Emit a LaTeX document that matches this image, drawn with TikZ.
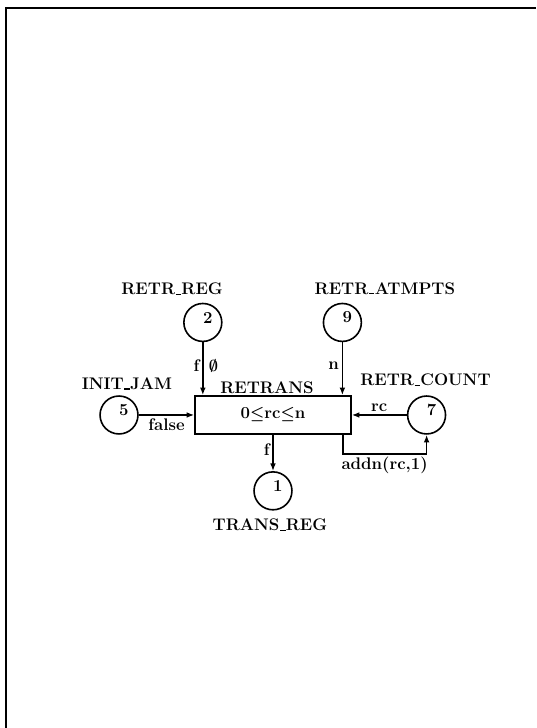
\documentclass[tikz,border=0pt]{standalone}
\usetikzlibrary{positioning,arrows.meta}

% short underscore as in the old OT1 fonts
\newcommand{\usc}{\kern.04em\rule{.32em}{.07em}\kern.02em}

\begin{document}
\begin{tikzpicture}[
    font=\fontsize{12.6}{15}\selectfont\bfseries\boldmath,
    place/.style={circle, draw, line width=1.2pt, minimum size=1cm, inner sep=0pt},
    trans/.style={rectangle, draw, line width=1.2pt, minimum width=4.11cm,
      minimum height=1cm, inner sep=1mm},
    num/.style={xshift=1.3mm, yshift=1.3mm, inner sep=0pt},
    lbl/.style={inner sep=1pt},
    inscr/.style={inner sep=2pt},
    arr/.style={-{Latex[length=2mm]}, line width=1.2pt},
    frame/.style={line width=1.5pt}
  ]
  \useasboundingbox (-7.198,-8.253) rectangle (6.935,10.942);

  % page frame (only top and left edge show)
  \draw[frame] (-7.04,-8.253) -- (-7.04,10.73) -- (6.935,10.73);

  \node[trans] (retrans) at (0,0) {0$\leq$rc$\leq$n};

  \node[place, label={[num]center:2}] (p2) at (-1.85,2.44)  {};
  \node[place, label={[num]center:9}] (p9) at (1.83,2.44)   {};
  \node[place, label={[num]center:5}] (p5) at (-4.06,0)     {};
  \node[place, label={[num]center:7}] (p7) at (4.05,0)      {};
  \node[place, label={[num]center:1}] (p1) at (0,-2.0)      {};

  \node[lbl] (nretrreg)  at (-2.66,3.32)  {RETR\usc REG};
  \node[lbl] (nretratt)  at (2.95,3.34)   {RETR\usc ATMPTS};
  \node[lbl] (ninitjam)  at (-3.85,0.82)  {INIT\usc JAM};
  \node[lbl] (nretrans)  at (-0.16,0.73)  {RETRANS};
  \node[lbl] (nretrcnt)  at (4.02,0.92)   {RETR\usc COUNT};
  \node[lbl] (ntransreg) at (-0.08,-2.90) {TRANS\usc REG};

  \draw[arr] (p2) -- node[inscr, left, pos=0.45] {f}
                     node[inscr, right, pos=0.45, xshift=2pt] {$\emptyset$} (p2 |- retrans.north);
  \draw[arr] (p9) -- node[inscr, left, pos=0.45] {n} (p9 |- retrans.north);
  \draw[arr] (p5) -- node[inscr, below] {false} (retrans);
  \draw[arr] (p7) -- node[inscr, above] {rc} (retrans);
  \draw[arr] (retrans) -- node[inscr, left, pos=0.4] {f} (p1);
  \draw[arr] ([xshift=-0.237cm]retrans.south east) -- ++(0,-0.5)
    -| node[inscr, below, pos=0.25] {addn(rc,1)} (p7.south);
\end{tikzpicture}
\end{document}
